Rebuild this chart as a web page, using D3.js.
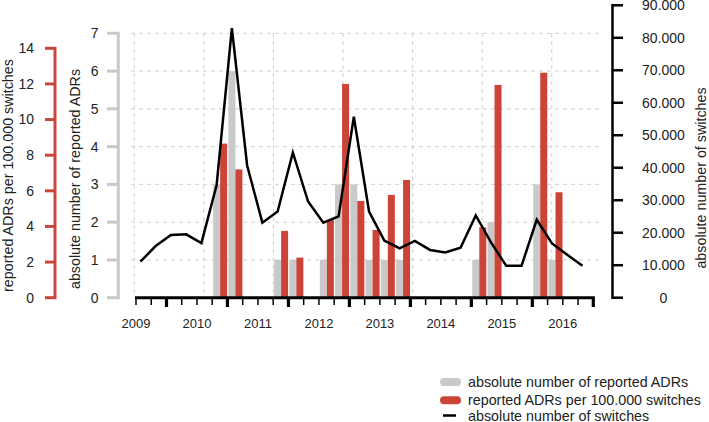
<!DOCTYPE html>
<html>
<head>
<meta charset="utf-8">
<script src="https://cdn.jsdelivr.net/npm/d3@7"></script>
<style>
  html, body { margin: 0; padding: 0; background: #fff; }
  svg { display: block; font-family: "Liberation Sans", Arial, sans-serif; }
  text { fill: #222; }
</style>
</head>
<body>
<svg id="chart" width="709" height="422"></svg>
<script>
// ---- data (quarterly, 30 quarters) ----
const quarters = d3.range(30);
const yearLabels = ["2009", "2010", "2011", "2012", "2013", "2014", "2015", "2016"];
const absoluteADRs = [0,0,0,0,0,3,6,0,0,1,1,0,1,3,3,1,1,1,0,0,0,0,1,2,0,0,3,1,0,0];
const adrsPer100k = [0,0,0,0,0,8.65,7.2,0,0,3.75,2.25,0,4.36,12.0,5.43,3.8,5.77,6.61,0,0,0,0,3.95,11.94,0,0,12.63,5.92,0,0];
const switches = [11100,15900,19300,19500,16800,34700,83000,40700,23100,26500,44700,29600,23100,25000,55700,
                  26500,17600,15200,17500,14700,13900,15400,25300,17000,9800,9800,24000,16700,13200,9800];
const greyTicks = [0,1,2,3,4,5,6,7];
const redTicks = [0,2,4,6,8,10,12,14];
const switchTicks = [0,10000,20000,30000,40000,50000,60000,70000,80000,90000];
const legendItems = ["absolute number of reported ADRs", "reported ADRs per 100.000 switches", "absolute number of switches"];

const RED = "#cc4437", GREY = "#c9c9c9", REDAXIS = "#c8463a";

const svg = d3.select("#chart");

// ---- scales ----
const x = d3.scaleLinear().domain([0, 30]).range([136, 593.3]);
const yGrey = d3.scaleLinear().domain([0, 7]).range([297.7, 33.3]);
const yRed = d3.scaleLinear().domain([0, 14]).range([297.7, 48.3]);
const ySw = d3.scaleLinear().domain([0, 90000]).range([297.7, 5.3]);

// ---- grid ----
const grid = svg.append("g").attr("stroke", "#cfcfcf").attr("stroke-width", 1).attr("stroke-dasharray", "4,4");
greyTicks.filter(d => d > 0).forEach(v => {
  grid.append("line").attr("x1", 131).attr("x2", 602).attr("y1", yGrey(v)).attr("y2", yGrey(v));
});
d3.range(7).map(i => 134.2 + i * 69.6).forEach(gx => {
  grid.append("line").attr("x1", gx).attr("x2", gx).attr("y1", 33).attr("y2", 297);
});

// ---- bars ----
svg.append("g").selectAll("rect").data(quarters.filter(k => absoluteADRs[k] > 0)).join("rect")
  .attr("x", k => x(k + 0.06)).attr("width", k => x(k + 0.52) - x(k + 0.06))
  .attr("y", k => yGrey(absoluteADRs[k])).attr("height", k => yGrey(0) - yGrey(absoluteADRs[k]))
  .attr("fill", GREY);
svg.append("g").selectAll("rect").data(quarters.filter(k => adrsPer100k[k] > 0)).join("rect")
  .attr("x", k => x(k + 0.52)).attr("width", k => x(k + 0.98) - x(k + 0.52))
  .attr("y", k => yRed(adrsPer100k[k])).attr("height", k => yRed(0) - yRed(adrsPer100k[k]))
  .attr("fill", RED);

// ---- line ----
svg.append("path").datum(quarters)
  .attr("d", d3.line().x(k => x(k + 0.29)).y(k => ySw(switches[k])))
  .attr("fill", "none").attr("stroke", "#000").attr("stroke-width", 2.5).attr("stroke-linejoin", "miter");

// ---- x axis ----
const xa = svg.append("g");
xa.append("line").attr("x1", x(0) - 1).attr("x2", x(30) + 1.5).attr("y1", 297.7).attr("y2", 297.7)
  .attr("stroke", "#000").attr("stroke-width", 3);
d3.range(31).forEach(k => {
  const major = (k % 4 === 2) || k === 30;
  xa.append("line").attr("x1", x(k)).attr("x2", x(k)).attr("y1", 297.7).attr("y2", major ? 307 : 305)
    .attr("stroke", "#000").attr("stroke-width", major ? 3.2 : 1.5);
});
xa.selectAll("text").data(yearLabels).join("text")
  .attr("x", (d, i) => x(i * 4)).attr("y", 328).attr("text-anchor", "middle")
  .attr("font-size", 13).text(d => d);

// ---- red axis ----
const ra = svg.append("g");
ra.append("line").attr("x1", 55).attr("x2", 55).attr("y1", yRed(14) - 1.5).attr("y2", yRed(0) + 1.5)
  .attr("stroke", REDAXIS).attr("stroke-width", 3);
redTicks.forEach(v => {
  ra.append("line").attr("x1", 45).attr("x2", 55).attr("y1", yRed(v)).attr("y2", yRed(v))
    .attr("stroke", REDAXIS).attr("stroke-width", 3);
  ra.append("text").attr("x", 34).attr("y", yRed(v)).attr("dy", "0.35em").attr("text-anchor", "end")
    .attr("font-size", 14).text(v);
});
svg.append("text").attr("transform", "translate(13,175.5) rotate(-90)").attr("text-anchor", "middle")
  .attr("font-size", 14.3).text("reported ADRs per 100.000 switches");

// ---- grey axis ----
const ga = svg.append("g");
ga.append("line").attr("x1", 118.3).attr("x2", 118.3).attr("y1", yGrey(7) - 1.5).attr("y2", yGrey(0) + 1.5)
  .attr("stroke", GREY).attr("stroke-width", 3);
greyTicks.forEach(v => {
  ga.append("line").attr("x1", 107).attr("x2", 118.3).attr("y1", yGrey(v)).attr("y2", yGrey(v))
    .attr("stroke", GREY).attr("stroke-width", 3);
  ga.append("text").attr("x", 98.5).attr("y", yGrey(v)).attr("dy", "0.35em").attr("text-anchor", "end")
    .attr("font-size", 14).text(v);
});
svg.append("text").attr("transform", "translate(79.5,179) rotate(-90)").attr("text-anchor", "middle")
  .attr("font-size", 14.3).text("absolute number of reported ADRs");

// ---- right axis ----
const fmt = v => v === 0 ? "0" : d3.format(",")(v).replace(/,/g, ".");
const sa = svg.append("g");
sa.append("line").attr("x1", 612.5).attr("x2", 612.5).attr("y1", ySw(90000) - 1.2).attr("y2", ySw(0) + 1.2)
  .attr("stroke", "#000").attr("stroke-width", 2.5);
switchTicks.forEach(v => {
  sa.append("line").attr("x1", 612.5).attr("x2", 623).attr("y1", ySw(v)).attr("y2", ySw(v))
    .attr("stroke", "#000").attr("stroke-width", 2.5);
  sa.append("text").attr("x", 663.5).attr("y", ySw(v)).attr("dy", "0.35em").attr("text-anchor", "middle")
    .attr("font-size", 14).text(fmt(v));
});
svg.append("text").attr("transform", "translate(706,178) rotate(-90)").attr("text-anchor", "middle")
  .attr("font-size", 14.3).text("absolute number of switches");

// ---- legend ----
const lg = svg.append("g");
const legY = [382, 400.3, 415.5];
lg.append("rect").attr("x", 440).attr("y", legY[0] - 4).attr("width", 21).attr("height", 8).attr("rx", 4).attr("fill", GREY);
lg.append("rect").attr("x", 440).attr("y", legY[1] - 4).attr("width", 21).attr("height", 8).attr("rx", 4).attr("fill", RED);
lg.append("line").attr("x1", 443).attr("x2", 456).attr("y1", legY[2]).attr("y2", legY[2]).attr("stroke", "#000").attr("stroke-width", 2.5);
lg.selectAll("text").data(legendItems).join("text")
  .attr("x", 468).attr("y", (d, i) => legY[i]).attr("dy", "0.35em").attr("font-size", 14.3).text(d => d);
</script>
</body>
</html>
